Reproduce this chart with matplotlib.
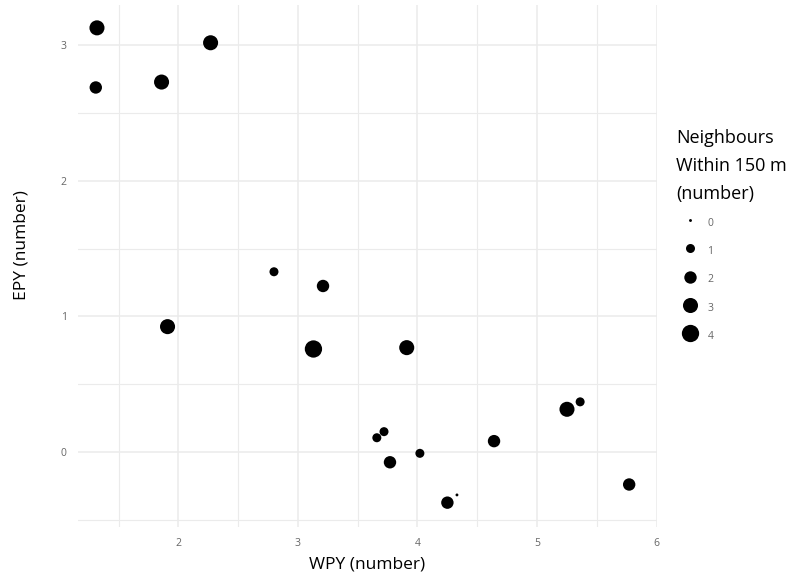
import numpy as np
import matplotlib
matplotlib.use('Agg')
import matplotlib.pyplot as plt
from matplotlib.lines import Line2D

# 점 데이터
wpy = [1.32, 1.31, 1.86, 2.27, 2.80, 3.21, 1.91, 3.13, 3.91, 5.36,
       5.25, 3.72, 3.66, 4.64, 4.02, 3.77, 4.25, 4.33, 5.77]
epy = [3.13, 2.69, 2.73, 3.02, 1.33, 1.225, 0.925, 0.76, 0.77, 0.37,
       0.315, 0.15, 0.105, 0.08, -0.01, -0.076, -0.374, -0.317, -0.24]
neighbours = [3, 2, 3, 3, 1, 2, 3, 4, 3, 1,
              3, 1, 1, 2, 1, 2, 2, 0, 2]

legend_levels = [0, 1, 2, 3, 4]
x_ticks = [2, 3, 4, 5, 6]
y_ticks = [0, 1, 2, 3]


def marker_diam(n):
    """ggplot scale_size 처럼 면적 비례 (range 1~6), 포인트 단위 지름"""
    size_mm = np.sqrt(1 + 35 * np.asarray(n) / 4)
    return size_mm / 6 * 17.3 * 0.72


plt.rcParams['font.family'] = ['Open Sans', 'DejaVu Sans']

fig = plt.figure(figsize=(8, 5.81), dpi=100)
ax = fig.add_axes([0.0973, 0.0938, 0.8216 - 0.0973, 0.9917 - 0.0938])

ax.scatter(wpy, epy, s=marker_diam(neighbours) ** 2, c='black',
           linewidths=0, zorder=3)

ax.set_xlim(1.16, 6.005)
ax.set_ylim(-0.55, 3.30)
ax.set_xticks(x_ticks)
ax.set_yticks(y_ticks)
ax.set_xticks(np.arange(1.5, 6.01, 1), minor=True)
ax.set_yticks([-0.5, 0.5, 1.5, 2.5], minor=True)
ax.grid(which='major', color='#ebebeb', linewidth=1.1)
ax.grid(which='minor', color='#ebebeb', linewidth=0.8)
ax.set_axisbelow(True)
for sp in ax.spines.values():
    sp.set_visible(False)
ax.tick_params(which='both', length=0, labelsize=7.5, labelcolor='#666666')
ax.tick_params(axis='x', pad=8)
ax.tick_params(axis='y', pad=8)

ax.set_xlabel('WPY (number)', fontsize=12.5, labelpad=6)
ax.set_ylabel('EPY (number)', fontsize=12.5)
ax.yaxis.set_label_coords(-0.083, 0.54)

handles = [Line2D([], [], marker='o', ls='', color='black', markeredgewidth=0,
                  markersize=marker_diam(n)) for n in legend_levels]
leg = fig.legend(handles, [str(n) for n in legend_levels],
                 title='Neighbours\nWithin 150 m\n(number)',
                 loc='upper left', bbox_to_anchor=(671 / 800, 1 - 124 / 581),
                 frameon=False, fontsize=7.5, title_fontsize=13,
                 labelcolor='#666666', alignment='left', borderpad=0,
                 handlelength=2.6, handleheight=2.2, handletextpad=0.4,
                 labelspacing=1.05)
leg.get_title().set_linespacing(1.7)

fig.savefig('out.png', dpi=100)
